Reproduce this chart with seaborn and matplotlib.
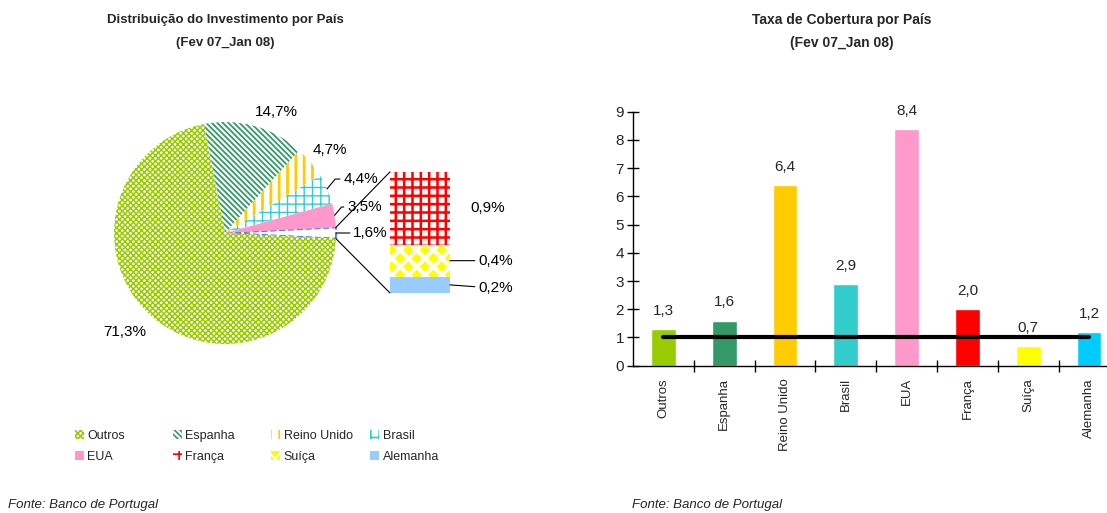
"""Distribuição do investimento (bar-of-pie) e taxa de cobertura por país."""
import matplotlib

matplotlib.use("Agg")
import matplotlib.pyplot as plt
import numpy as np
import seaborn as sns

# --- data --------------------------------------------------------------------
pie_countries = ["Outros", "Espanha", "Reino Unido", "Brasil", "EUA"]
pie_shares = [71.3, 14.7, 4.7, 4.4, 3.5]
other_share = 1.6  # slice that is broken out into the stacked bar
split_countries = ["França", "Suíça", "Alemanha"]
split_shares = [0.9, 0.4, 0.2]

countries = ["Outros", "Espanha", "Reino Unido", "Brasil", "EUA",
             "França", "Suíça", "Alemanha"]
coverage = [1.3, 1.6, 6.4, 2.9, 8.4, 2.0, 0.7, 1.2]
reference_level = [1, 1, 1, 1, 1, 1, 1, 1]

period = "(Fev 07_Jan 08)"
left_title = "Distribuição do Investimento por País"
right_title = "Taxa de Cobertura por País"
source = "Fonte: Banco de Portugal"

colors = {
    "Outros": "#99CC00",
    "Espanha": "#339966",
    "Reino Unido": "#FFCC00",
    "Brasil": "#33CCCC",
    "EUA": "#FF99CC",
    "França": "#FF0000",
    "Suíça": "#FFFF00",
    "Alemanha": "#00CCFF",
}

# fill styles used in the pie: (face, hatch colour, hatch, hatch linewidth)
pie_styles = {
    "Outros": ("white", "#99CC00", "xxxxxx", 1.1),
    "Espanha": ("white", "#339966", "\\" * 6, 1.3),
    "Reino Unido": ("white", "#FFCC00", "||", 2.0),
    "Brasil": ("white", "#33CCCC", "++", 1.0),
    "EUA": ("#FF99CC", "#FF99CC", "", 1.0),
    "França": ("white", "#FF0000", "++", 1.8),
    "Suíça": ("#FFFF00", "white", "xx", 3.0),
    "Alemanha": ("#99CCFF", "#99CCFF", "", 1.0),
}


def fmt(value: float, pct: bool = False) -> str:
    text = f"{value:.1f}".replace(".", ",")
    return text + "%" if pct else text


def style_patch(patch, name: str) -> None:
    face, hcolor, hatch, hlw = pie_styles[name]
    patch.set_facecolor(face)
    patch.set_edgecolor(hcolor)
    patch.set_linewidth(0)
    if hatch:
        patch.set_hatch(hatch)
        if hasattr(patch, "set_hatch_linewidth"):
            patch.set_hatch_linewidth(hlw)


sns.set_theme(style="white")
plt.rcParams["font.family"] = ["Liberation Sans", "DejaVu Sans"]
plt.rcParams["hatch.linewidth"] = 1.2

W, H = 1107, 513
fig = plt.figure(figsize=(W / 100, H / 100), dpi=100)

# --- left: bar of pie ---------------------------------------------------------
cx, cy, radius = 225, 233, 111  # pixel layout of the pie
xlim = (-1.15, 2.95)
ylim = (-1.55, 1.45)
ax1 = fig.add_axes([
    (cx + xlim[0] * radius) / W,
    (H - (cy - ylim[0] * radius)) / H,
    (xlim[1] - xlim[0]) * radius / W,
    (ylim[1] - ylim[0]) * radius / H,
])

values = [other_share] + pie_shares[::-1]
names = ["_other"] + pie_countries[::-1]
half = other_share * 3.6 / 2
wedges, _ = ax1.pie(values, startangle=-half, counterclock=True,
                    radius=1, center=(0, 0))
handles = {}
for wedge, name in zip(wedges, names):
    if name == "_other":
        wedge.set_facecolor("white")
        wedge.set_edgecolor("#3366FF")
        wedge.set_linestyle("--")
        wedge.set_linewidth(1.2)
    else:
        style_patch(wedge, name)
        handles[name] = wedge

# stacked bar with the split of the small slice
bar_left, bar_right = 1.486, 2.027
stack_bottom, stack_height = -0.54, 1.09
scale = stack_height / sum(split_shares)
bottom = stack_bottom
bar_centers = {}
for name, share in zip(split_countries[::-1], split_shares[::-1]):
    bars = ax1.bar(bar_left, share * scale, width=bar_right - bar_left,
                   bottom=bottom, align="edge")
    style_patch(bars[0], name)
    handles[name] = bars[0]
    bar_centers[name] = bottom + share * scale / 2
    bottom += share * scale

# connectors between slice and bar
t = np.deg2rad(half)
ax1.plot([np.cos(t), bar_left], [np.sin(t), stack_bottom + stack_height],
         color="black", lw=0.8)
ax1.plot([np.cos(t), bar_left], [-np.sin(t), stack_bottom],
         color="black", lw=0.8)

label_kw = dict(fontsize=11, color="black")
line_kw = dict(arrowstyle="-", color="black", lw=0.8, shrinkA=0, shrinkB=0)

# slice labels (positions tuned to the original layout)
mid = {}
for wedge, name in zip(wedges, names):
    mid[name] = np.deg2rad((wedge.theta1 + wedge.theta2) / 2)
share_of = dict(zip(pie_countries, pie_shares))

ax1.text(-0.90, -0.89, fmt(share_of["Outros"], True), ha="center",
         va="center", **label_kw)
ax1.text(0.466, 1.093, fmt(share_of["Espanha"], True), ha="center",
         va="center", **label_kw)
ax1.text(0.946, 0.748, fmt(share_of["Reino Unido"], True), ha="center",
         va="center", **label_kw)
for name, pos in [("Brasil", (1.065, 0.486)), ("EUA", (1.10, 0.234))]:
    a = mid[name]
    ax1.annotate(fmt(share_of[name], True), xy=(np.cos(a), np.sin(a)),
                 xytext=pos, ha="left", va="center",
                 arrowprops=dict(connectionstyle="angle,angleA=0,angleB=50",
                                 **line_kw), **label_kw)
ax1.annotate(fmt(other_share, True), xy=(1.0, 0.0), xytext=(1.155, 0.0),
             ha="left", va="center", arrowprops=line_kw, **label_kw)

ax1.text(2.369, bar_centers["França"], fmt(split_shares[0], True),
         ha="center", va="center", **label_kw)
for name, share, dy in [("Suíça", split_shares[1], 0.0),
                        ("Alemanha", split_shares[2], -0.03)]:
    ax1.annotate(fmt(share, True), xy=(bar_right, bar_centers[name]),
                 xytext=(2.28, bar_centers[name] + dy), ha="left",
                 va="center", arrowprops=line_kw, **label_kw)

ax1.set_xlim(*xlim)
ax1.set_ylim(*ylim)
ax1.set_aspect("auto")
ax1.axis("off")

# legend, laid out as 4 columns of 2 entries
rows = [pie_countries[:4], [pie_countries[4]] + split_countries]
col_x = [75, 173, 271, 370]
for i, x in enumerate(col_x):
    col = [rows[0][i], rows[1][i]]
    fig.legend([handles[c] for c in col], col, loc="upper left",
               bbox_to_anchor=(x / W, 1 - 430 / H), frameon=False,
               fontsize=9, handlelength=0.7, handleheight=0.7,
               handletextpad=0.3, labelspacing=0.72, borderpad=0,
               borderaxespad=0)

# --- right: coverage ratio ----------------------------------------------------
ax2 = fig.add_axes([633 / W, (H - 365.7) / H, 486.4 / W, 254 / H])
sns.barplot(x=countries, y=coverage, hue=countries,
            palette=[colors[c] for c in countries], saturation=1,
            width=0.41, legend=False, ax=ax2)
for container, value in zip(ax2.containers, coverage):
    ax2.bar_label(container, labels=[fmt(value)], padding=8, fontsize=11)
ax2.plot(np.arange(len(countries)), reference_level, color="black", lw=3,
         solid_capstyle="round", zorder=4)

ax2.set_xlim(-0.5, len(countries) - 0.5)
ax2.set_ylim(0, 9)
ax2.set_yticks(range(0, 10))
ax2.set_xticks(np.arange(len(countries)) + 0.5, minor=True)
ax2.tick_params(axis="y", direction="inout", length=9, width=1,
                labelsize=11, pad=2, left=True, color="black")
ax2.tick_params(axis="x", which="major", length=0, labelsize=9.5,
                labelrotation=90, pad=9)
ax2.tick_params(axis="x", which="minor", direction="inout", length=9,
                width=1, bottom=True, color="black")
ax2.set_xlabel("")
ax2.set_ylabel("")
for side in ("top", "right"):
    ax2.spines[side].set_visible(False)
for side in ("left", "bottom"):
    ax2.spines[side].set_color("black")
    ax2.spines[side].set_linewidth(1)

# titles and source notes
title_kw = dict(ha="center", va="center", fontweight="bold")
for x, title, size in [(225, left_title, 9.5), (842, right_title, 10)]:
    fig.text(x / W, 1 - 20 / H, title, fontsize=size, **title_kw)
    fig.text(x / W, 1 - 43 / H, period, fontsize=size, **title_kw)

for x in (8, 632):
    fig.text(x / W, 1 - 505 / H, source, ha="left", va="center",
             fontsize=9.5, style="italic")

fig.savefig("out.png", dpi=100)
plt.close(fig)
